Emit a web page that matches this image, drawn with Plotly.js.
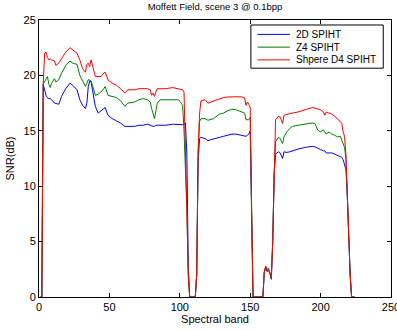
<!DOCTYPE html>
<html>
<head>
<meta charset="utf-8">
<script src="https://cdn.plot.ly/plotly-3.0.1.min.js"></script>
<style>html,body{margin:0;padding:0;background:#fff;}#chart{width:397px;height:330px;}</style>
</head>
<body>
<div id="chart"></div>
<script>
const bands = [1,2,3,4,5,6,7,8,9,11,12,13,14,16,19,22,24,27,29,31,33,34,35,36,37,38,40,42,44,46,47,49,52,55,58,61,63,66,68,71,74,77,79,80,81,82,83,84,86,90,95,99,101,102,103,104,105,106,107,111,112,113,114,115,118,120,122,124,128,131,134,137,140,144,146,147,148,149,150,151,152,159,160,161,162,163,164,165,166,167,168,170,171,172,173,174,176,178,180,184,189,194,196,198,200,202,203,204,206,208,210,212,214,215,216,217,218,219,220,221,222,224];

const snr2D = [0,0,19.2,18.6,18.2,18.0,17.9,17.9,17.8,17.5,17.45,17.4,17.4,18.1,18.8,19.3,19.1,18.7,17.8,17.3,17.0,17.5,19.0,19.5,19.4,18.7,17.2,16.6,16.8,17.0,17.1,16.4,16.1,15.9,15.7,15.4,15.4,15.4,15.4,15.5,15.5,15.6,15.5,15.4,15.4,15.4,15.5,15.5,15.5,15.5,15.6,15.55,15.55,15.55,15.6,15.7,13,3,0,0,2,12,14.3,14.4,14.3,14.1,14.2,14.25,14.4,14.5,14.6,14.7,14.7,14.6,14.5,14.5,14.6,14.7,15.0,8,0,0,2.2,2.6,2.3,2.4,2.1,1.6,5,11,12.9,13.1,13.05,12.8,12.5,13.1,13.05,13.1,13.2,13.35,13.5,13.6,13.55,13.4,13.3,13.2,13.2,13.0,13.0,13.0,12.9,12.8,12.7,12.6,12.4,12.0,11.5,9,5,2,0,0];

const snrZ4 = [0,0,19.2,19.4,19.6,19.9,19.2,18.9,19.3,19.7,19.4,19.5,19.6,20.2,20.9,21.3,21.1,21.0,20.0,19.5,19.0,19.3,19.6,19.6,19.5,19.1,18.2,18.3,18.5,18.8,19.0,18.2,18.1,18.0,17.7,17.2,17.5,17.6,17.6,17.8,17.9,17.8,17.6,17.0,16.5,16.1,16.8,17.5,17.8,17.8,17.8,17.8,17.5,17.3,15,12.2,8,2,0,0,2,13,15.8,16.1,16.1,15.95,16.0,16.1,16.5,16.6,16.8,16.95,16.9,16.7,16.6,16.0,16.0,16.0,16.2,8,0,0,2.2,2.7,2.4,2.5,2.2,1.7,5,11,14.0,14.4,14.35,14.1,13.85,14.45,14.9,15.2,15.4,15.5,15.6,15.7,15.66,15.06,14.9,15.1,14.9,14.7,14.9,14.7,14.6,14.45,14.5,14.2,13.85,13.5,12.5,9,5,2,0,0];

const snrD4 = [0,0,19.3,22.0,22.1,21.6,21.4,21.5,21.4,21.3,20.9,21.0,21.1,21.5,22.1,22.5,22.3,22.0,21.4,20.6,20.3,21.0,21.1,20.8,21.4,20.9,19.9,19.9,19.9,20.2,20.3,19.6,19.3,19.1,18.8,18.4,18.7,18.7,18.7,18.8,18.8,18.8,18.7,18.2,18.4,18.1,18.5,18.8,18.8,18.8,18.9,18.8,18.7,18.7,18.5,14,8,2,0,0,2,13,16.5,17.7,17.8,17.5,17.6,17.7,17.9,18.0,18.05,18.07,18.07,18.05,18.0,17.3,17.6,17.4,17.1,8,0,0,2.3,2.8,2.5,2.6,2.2,1.8,5,11,16.0,16.3,16.3,16.0,15.66,16.4,16.5,16.55,16.6,16.7,16.9,17.1,17.05,17.0,16.9,16.7,16.4,16.7,16.6,16.5,16.3,16.1,15.8,15.7,14.9,14.5,12.8,9,5,2,0,0];

const seriesNames = ['2D SPIHT','Z4 SPIHT','Shpere D4 SPIHT'];
const xTicks = [0,50,100,150,200,250];
const yTicks = [0,5,10,15,20,25];

const colors = ['#0000ff','#008000','#ff0000'];
const ys = [snr2D, snrZ4, snrD4];
const traces = ys.map((y,i)=>({
  x: bands, y: y, type:'scatter', mode:'lines', name: seriesNames[i],
  line:{color:colors[i], width:1}, showlegend:false
}));

const fam = 'Liberation Sans, Arial, sans-serif';
const axisCommon = {
  showline:true, mirror:'ticks', linecolor:'#000', linewidth:1,
  ticks:'inside', ticklen:4, tickcolor:'#000', showgrid:false, zeroline:false,
  ticklabeloverflow:'allow',
  tickfont:{family:fam, size:11, color:'#000'}
};

// Legend box (MATLAB style) in paper coordinates
const legBox = {x0:0.602, x1:0.978, y0:0.826, y1:0.982};
const legRows = [0.948, 0.902, 0.856];
const shapes = [{type:'rect', xref:'paper', yref:'paper', x0:legBox.x0, x1:legBox.x1, y0:legBox.y0, y1:legBox.y1,
  line:{color:'#000', width:1}, fillcolor:'#fff', layer:'above'}];
const annotations = [];
seriesNames.forEach((n,i)=>{
  shapes.push({type:'line', xref:'paper', yref:'paper', x0:0.621, x1:0.713, y0:legRows[i], y1:legRows[i],
    line:{color:colors[i], width:1}, layer:'above'});
  annotations.push({xref:'paper', yref:'paper', x:0.725, y:legRows[i], xanchor:'left', yanchor:'middle',
    text:n, showarrow:false, font:{family:fam, size:10, color:'#000'}});
});

const layout = {
  width:397, height:330,
  margin:{l:39, r:6, t:20, b:33, pad:0},
  paper_bgcolor:'#fff', plot_bgcolor:'#fff',
  font:{family:fam, size:11, color:'#000'},
  title:{text:'Moffett Field, scene 3 @ 0.1bpp', font:{family:fam,size:9.5,color:'#000'}, x:0.5415, xanchor:'center', y:0.99, yanchor:'top'},
  xaxis: Object.assign({}, axisCommon, {range:[0,250], tickvals:xTicks, ticktext:xTicks.map(String),
    title:{text:'Spectral band', font:{family:fam,size:11,color:'#000'}, standoff:2}}),
  yaxis: Object.assign({}, axisCommon, {range:[0,25], tickvals:yTicks, ticktext:yTicks.map(String),
    title:{text:'SNR(dB)', font:{family:fam,size:11,color:'#000'}, standoff:6}}),
  showlegend:false,
  shapes: shapes,
  annotations: annotations
};
Plotly.newPlot('chart', traces, layout, {displayModeBar:false, staticPlot:true});
</script>
</body>
</html>
